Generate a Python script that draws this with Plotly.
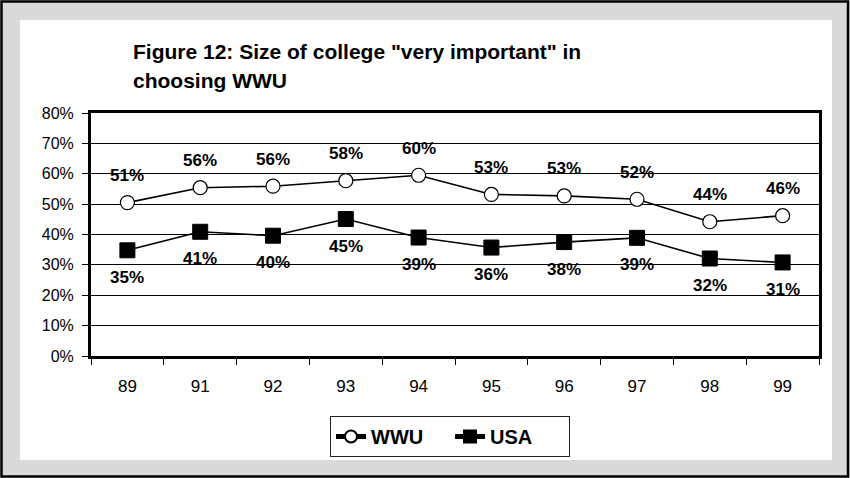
import plotly.graph_objects as go

# ---- data ----
years = ["89", "91", "92", "93", "94", "95", "96", "97", "98", "99"]
wwu = [0.505, 0.554, 0.559, 0.577, 0.595, 0.532, 0.527, 0.516, 0.442, 0.462]
usa = [0.348, 0.409, 0.396, 0.451, 0.390, 0.357, 0.375, 0.389, 0.321, 0.308]
wwu_labels = ["51%", "56%", "56%", "58%", "60%", "53%", "53%", "52%", "44%", "46%"]
usa_labels = ["35%", "41%", "40%", "45%", "39%", "36%", "38%", "39%", "32%", "31%"]
series_names = ["WWU", "USA"]
title_line1 = 'Figure 12: Size of college "very important" in'
title_line2 = "choosing WWU"
y_ticks = [0, 0.1, 0.2, 0.3, 0.4, 0.5, 0.6, 0.7, 0.8]

# ---- layout geometry (pixels) ----
W, H = 850, 478
L, R, T, B = 91, 819, 113, 356
FONT = "Arial, Liberation Sans, sans-serif"


def px(x):
    return (x - L) / (R - L)


def py(y):
    return (B - y) / (B - T)


fig = go.Figure()
fig.add_trace(go.Scatter(
    x=years, y=wwu, name=series_names[0], mode="lines+markers",
    line=dict(color="black", width=1.6),
    marker=dict(symbol="circle", size=14, color="white",
                line=dict(color="black", width=1.2)),
))
fig.add_trace(go.Scatter(
    x=years, y=usa, name=series_names[1], mode="lines+markers",
    line=dict(color="black", width=1.6),
    marker=dict(symbol="square", size=15, color="black",
                line=dict(color="black", width=1)),
))

label_font = dict(family=FONT, size=17, color="black", weight="bold")
annotations = []
for i, (yv, t) in enumerate(zip(wwu, wwu_labels)):
    annotations.append(dict(x=i, y=yv, xref="x", yref="y", text=t, showarrow=False,
                            yshift=27, font=label_font))
for i, (yv, t) in enumerate(zip(usa, usa_labels)):
    annotations.append(dict(x=i, y=yv, xref="x", yref="y", text=t, showarrow=False,
                            yshift=-27, font=label_font))
title_font = dict(family=FONT, size=21, color="black", weight="bold")
annotations.append(dict(x=px(131), y=py(51), xref="paper", yref="paper", xanchor="left",
                        yanchor="middle", text=title_line1, showarrow=False, font=title_font))
annotations.append(dict(x=px(131), y=py(81), xref="paper", yref="paper", xanchor="left",
                        yanchor="middle", text=title_line2, showarrow=False, font=title_font))

shapes = [
    dict(type="rect", xref="paper", yref="paper", layer="below",
         x0=px(20), x1=px(832), y0=py(460), y1=py(20),
         fillcolor="white", line=dict(width=0)),
    dict(type="rect", xref="paper", yref="paper", layer="above",
         x0=px(1.5), x1=px(848), y0=py(476.5), y1=py(1.5),
         fillcolor="rgba(0,0,0,0)", line=dict(color="black", width=2.5)),
]

fig.update_layout(
    width=W, height=H,
    margin=dict(l=L, r=W - R, t=T, b=H - B, pad=0, autoexpand=False),
    paper_bgcolor="#d9d9d9",
    plot_bgcolor="white",
    font=dict(family=FONT, color="black"),
    showlegend=True,
    legend=dict(orientation="h", x=px(450), xanchor="center", y=py(416), yanchor="top",
                bgcolor="white", bordercolor="#222", borderwidth=1,
                font=dict(family=FONT, size=20, color="black", weight="bold"),
                itemsizing="constant", entrywidth=74),
    annotations=annotations,
    shapes=shapes,
)
fig.update_xaxes(type="category", range=[-0.5, len(years) - 0.5], tickson="boundaries",
                 ticks="outside", ticklen=6, tickangle=0, automargin=False,
                 tickcolor="black", tickwidth=1, showgrid=False,
                 showline=True, linecolor="black", linewidth=3, mirror=True,
                 tickfont=dict(family=FONT, size=17, color="black"),
                 ticklabelstandoff=13)
fig.update_yaxes(range=[0, 0.8], tickvals=y_ticks, tickformat=".0%", ticks="outside",
                 ticklen=6, tickcolor="black", tickwidth=1, automargin=False,
                 showgrid=True, gridcolor="black", gridwidth=1, zeroline=False,
                 showline=True, linecolor="black", linewidth=3, mirror=True,
                 tickfont=dict(family=FONT, size=16, color="black"),
                 ticklabelstandoff=5)

fig.write_html("out.html", config={"displayModeBar": False},
               post_script="document.body.style.margin='0';")
